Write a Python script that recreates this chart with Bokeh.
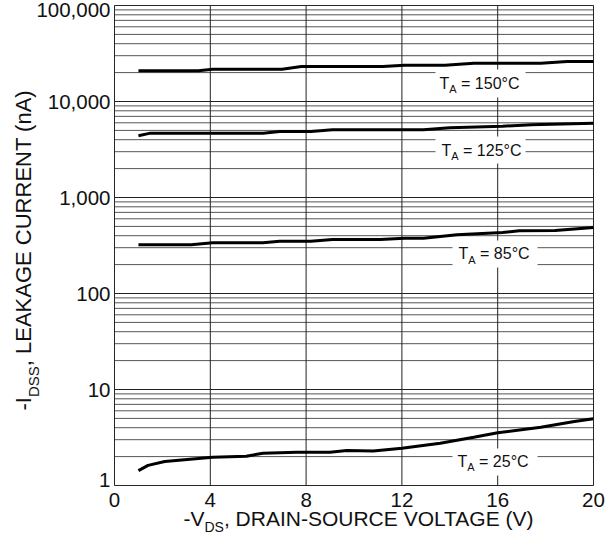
from bokeh.plotting import figure
from bokeh.models import (FixedTicker, Label, BoxAnnotation, Range1d, NumeralTickFormatter,
                          LogAxis, LinearAxis)
from bokeh.embed import file_html
from bokeh.resources import INLINE

# ---- data ----
vds_25 = [1.0, 1.4, 2.1, 4.1, 5.5, 6.2, 7.6, 9.0, 9.7, 10.8, 12.0, 13.6, 15.0, 16.0, 17.8, 19.2, 20.0]
idss_25 = [1.43, 1.62, 1.78, 1.97, 2.02, 2.17, 2.22, 2.22, 2.31, 2.29, 2.45, 2.76, 3.18, 3.54, 4.05, 4.64, 4.95]

vds_85 = [1.0, 3.2, 4.1, 6.2, 6.9, 8.2, 9.1, 11.1, 12.1, 12.9, 14.3, 16.2, 16.9, 18.4, 20.0]
idss_85 = [322, 322, 337, 337, 351, 351, 365, 365, 377, 377, 409, 432, 450, 453, 487]

vds_125 = [1.0, 1.5, 6.2, 6.9, 8.2, 9.1, 12.9, 14.0, 16.2, 17.4, 20.0]
idss_125 = [4400, 4680, 4680, 4870, 4870, 5070, 5070, 5320, 5530, 5720, 5940]

vds_150 = [1.0, 3.5, 4.1, 7.0, 7.8, 11.2, 12.1, 13.8, 15.0, 17.8, 18.9, 20.0]
idss_150 = [20900, 20900, 21700, 21700, 23150, 23150, 23900, 23900, 25000, 25000, 26100, 26100]

x_ticks = [0, 4, 8, 12, 16, 20]
y_ticks = [1, 10, 100, 1000, 10000, 100000]
y_minor = [k * 10 ** d for d in range(5) for k in range(2, 10)]
temps = ["150°C", "125°C", "85°C", "25°C"]
x_title = ["-V", "DS", ", DRAIN-SOURCE VOLTAGE (V)"]
y_title = ["-I", "DSS", ", LEAKAGE CURRENT (nA)"]

# ---- layout constants (page pixels) ----
W, H = 609, 536
FL, FR, FT, FB = 114, 593, 5, 485   # plot box edges
XMIN, XMAX = x_ticks[0], x_ticks[-1]
YMIN, YMAX = y_ticks[0], y_ticks[-1]
FONT = "Liberation Sans"
INK = "#111111"
TICK_FS = "20.5px"
MID = 0.3465   # baseline offset from box middle, in em (Liberation Sans)

def px_x(px):
    return XMIN + (px - FL) * (XMAX - XMIN) / (FR - FL)

def px_y(py):
    return 10 ** ((FB - py) / ((FB - FT) / 5.0))

# The frame fills the whole page; the plot box is drawn inside it.
p = figure(width=W, height=H, y_axis_type="log",
           x_range=Range1d(px_x(0), px_x(W)), y_range=Range1d(px_y(H), px_y(0)),
           x_axis_location=None, y_axis_location=None,
           output_backend="svg", toolbar_location=None, min_border=0)
p.outline_line_color = None
p.background_fill_color = "white"
p.border_fill_color = "white"
p.xgrid.visible = False
p.ygrid.visible = False

# grid lines (horizontal at every decade/minor value, vertical at x ticks)
p.multi_line(xs=[[XMIN, XMAX]] * len(y_minor), ys=[[v, v] for v in y_minor],
             line_color="#555555", line_width=1)
p.multi_line(xs=[[XMIN, XMAX]] * len(y_ticks), ys=[[v, v] for v in y_ticks],
             line_color="#222222", line_width=1)
p.multi_line(xs=[[v, v] for v in x_ticks], ys=[[YMIN, YMAX]] * len(x_ticks),
             line_color="#222222", line_width=1)

# curves
for xs, ys in [(vds_25, idss_25), (vds_85, idss_85), (vds_125, idss_125), (vds_150, idss_150)]:
    p.line(xs, ys, line_color="black", line_width=3)

# axes drawn at the plot box edges
def style_axis(ax):
    ax.axis_line_color = None
    ax.major_tick_line_color = None
    ax.minor_tick_line_color = None
    ax.major_tick_out = 0
    ax.major_tick_in = 0
    ax.major_label_text_font = FONT
    ax.major_label_text_font_size = TICK_FS
    ax.major_label_text_color = INK

for ticks, baseline, overrides in [(y_ticks[1:-1], "middle", {}),
                                   (y_ticks[-1:], "hanging", {}),
                                   (y_ticks[:1], "middle", {y_ticks[0]: "1\n"})]:
    ya = LogAxis(fixed_location=XMIN, bounds=(YMIN, YMAX),
                 ticker=FixedTicker(ticks=ticks, minor_ticks=[]),
                 formatter=NumeralTickFormatter(format="0,0"))
    style_axis(ya)
    ya.major_label_standoff = 4
    ya.major_label_text_baseline = baseline
    if overrides:
        ya.major_label_overrides = overrides
        ya.major_label_text_line_height = 0.55
    p.add_layout(ya, "left")

xa = LinearAxis(fixed_location=YMIN, bounds=(XMIN, XMAX), ticker=FixedTicker(ticks=x_ticks, minor_ticks=[]))
style_axis(xa)
xa.major_label_standoff = 7
p.add_layout(xa, "below")

def text(x_px, base_px, txt, fs, angle=0):
    """Place text so that its alphabetic baseline falls on base_px."""
    if angle:
        x, y = px_x(base_px - MID * fs), px_y(x_px)
    else:
        x, y = px_x(x_px), px_y(base_px - MID * fs)
    p.add_layout(Label(x=x, y=y, text=txt, text_font=FONT, text_font_size=f"{fs}px",
                       angle=angle, angle_units="deg", text_align="left",
                       text_baseline="middle", text_color=INK))

# temperature labels with white boxes
boxes = [(435, 525, 69, 97, 439, 88.5),
         (435, 525, 136, 163, 441, 155.5),
         (452, 537, 240, 267, 458, 259),
         (452, 537, 448, 475, 457, 466.5)]
for t, (l, r, top, bot, tx, base) in zip(temps, boxes):
    p.add_layout(BoxAnnotation(left=px_x(l), right=px_x(r), top=px_y(top), bottom=px_y(bot),
                               fill_color="white", fill_alpha=1.0, line_color=None))
for t, (l, r, top, bot, tx, base) in zip(temps, boxes):
    text(tx, base, "T", 16)
    sx = tx + 0.611 * 16
    text(sx, base + 4, "A", 11)
    text(sx + 0.667 * 11 + 0.278 * 16, base, "= " + t, 16)

# plot box outline
p.add_layout(BoxAnnotation(left=XMIN, right=XMAX, bottom=YMIN, top=YMAX, fill_color=None,
                           fill_alpha=0, line_color="#333333", line_width=1))

# x-axis title with subscript
XM, XS = 21, 14
xcur, xb = 183, 525
for txt, fs, off, adv in [(x_title[0], XM, 0, 1.0 * XM), (x_title[1], XS, 6, 1.389 * XS),
                          (x_title[2], XM, 0, 0)]:
    text(xcur, xb + off, txt, fs)
    xcur += adv

# y-axis title (rotated, reading upward) with subscript
YM, YS = 22, 15
ycur, yb = 410, 30.7
for txt, fs, off, adv in [(y_title[0], YM, 0, 0.611 * YM), (y_title[1], YS, 7, 2.056 * YS),
                          (y_title[2], YM, 0, 0)]:
    text(ycur, yb + off, txt, fs, angle=90)
    ycur -= adv

open("out.html", "w").write(file_html(p, INLINE))
